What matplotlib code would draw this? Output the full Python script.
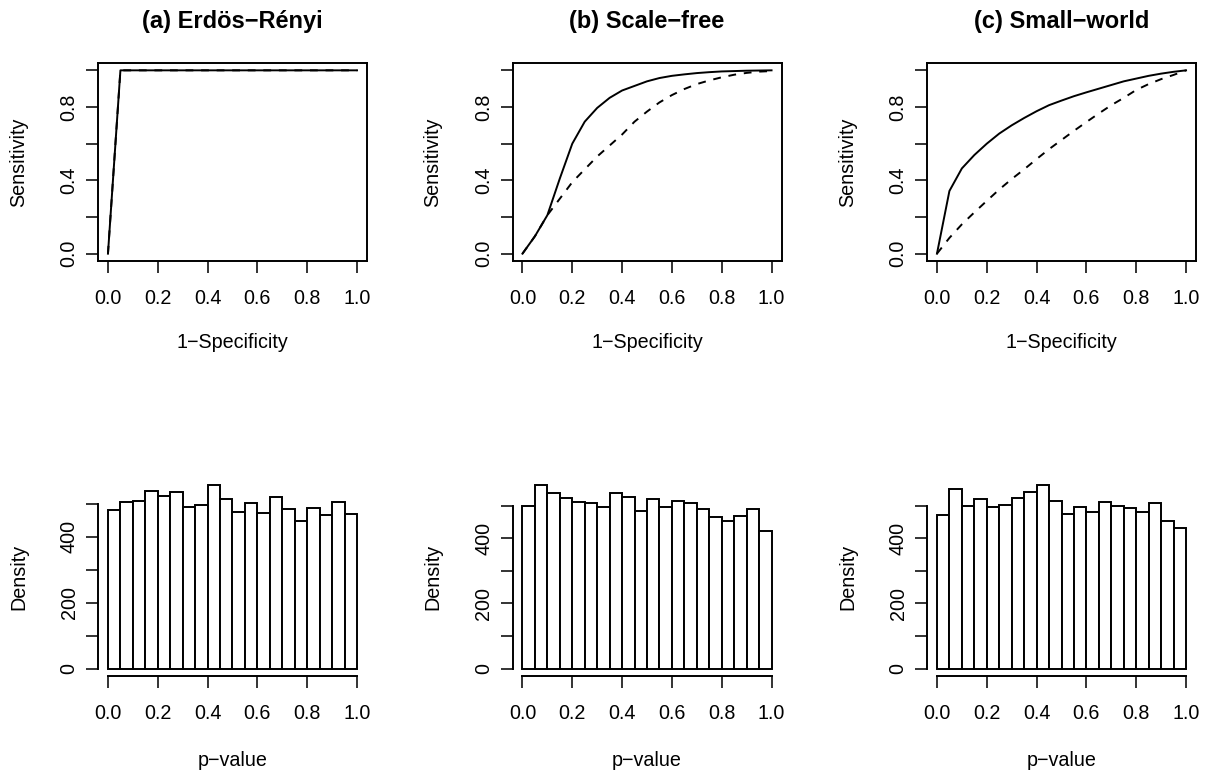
""" ROC curves and p-value histograms for three network models, drawn in R base-graphics style"""
import numpy as np
import matplotlib
matplotlib.use("Agg")
import matplotlib.pyplot as plt


FIG_W, FIG_H = 1207, 772
DPI = 100

TITLES = ["(a) Erdös−Rényi", "(b) Scale−free", "(c) Small−world"]

FPR = [0.00, 0.05, 0.10, 0.15, 0.20, 0.25, 0.30, 0.35, 0.40, 0.45, 0.50,
       0.55, 0.60, 0.65, 0.70, 0.75, 0.80, 0.85, 0.90, 0.95, 1.00]

# solid curves
SENS_ER = [0.0, 1.0, 1.0, 1.0, 1.0, 1.0, 1.0, 1.0, 1.0, 1.0, 1.0,
           1.0, 1.0, 1.0, 1.0, 1.0, 1.0, 1.0, 1.0, 1.0, 1.0]
SENS_SF = [0.0, 0.095, 0.21, 0.41, 0.60, 0.72, 0.795, 0.85, 0.89, 0.915, 0.94,
           0.958, 0.97, 0.978, 0.985, 0.99, 0.994, 0.996, 0.998, 0.999, 1.0]
SENS_SW = [0.0, 0.342, 0.465, 0.538, 0.60, 0.655, 0.70, 0.74, 0.777, 0.81, 0.835,
           0.859, 0.88, 0.90, 0.92, 0.94, 0.955, 0.97, 0.982, 0.992, 1.0]

# dashed curves
SENS_ER_2 = [0.0, 1.0, 1.0, 1.0, 1.0, 1.0, 1.0, 1.0, 1.0, 1.0, 1.0,
             1.0, 1.0, 1.0, 1.0, 1.0, 1.0, 1.0, 1.0, 1.0, 1.0]
SENS_SF_2 = [0.0, 0.095, 0.21, 0.30, 0.39, 0.46, 0.53, 0.59, 0.65, 0.72, 0.775,
             0.825, 0.865, 0.898, 0.925, 0.945, 0.962, 0.976, 0.986, 0.993, 0.996]
SENS_SW_2 = [0.0, 0.086, 0.16, 0.225, 0.288, 0.35, 0.407, 0.46, 0.516, 0.57, 0.62,
             0.67, 0.718, 0.765, 0.81, 0.85, 0.893, 0.925, 0.952, 0.975, 1.0]

BIN_EDGES = [0.00, 0.05, 0.10, 0.15, 0.20, 0.25, 0.30, 0.35, 0.40, 0.45, 0.50,
             0.55, 0.60, 0.65, 0.70, 0.75, 0.80, 0.85, 0.90, 0.95, 1.00]
DENS_ER = [480, 505, 510, 540, 524, 537, 489, 497, 556, 515,
           475, 503, 473, 521, 484, 447, 487, 465, 504, 469]
DENS_SF = [498, 562, 539, 524, 511, 508, 497, 538, 525, 484,
           519, 495, 513, 508, 488, 466, 453, 469, 489, 421]
DENS_SW = [470, 552, 500, 521, 497, 502, 523, 541, 562, 514,
           473, 496, 481, 511, 498, 494, 479, 507, 452, 431]

LW = 1.4
FS = 14.2
FONT = ["Liberation Sans", "DejaVu Sans"]


def px_axes(fig, left, top, width, height):
    """ Add axes using pixel coordinates measured from the top-left corner"""
    return fig.add_axes([left / FIG_W, 1 - (top + height) / FIG_H, width / FIG_W, height / FIG_H])


def style_ticks(ax):
    """ R-like outward ticks"""
    ax.tick_params(axis="both", direction="out", length=8.5, width=LW * 0.8,
                   labelsize=FS, colors="black")
    ax.tick_params(axis="x", pad=11.5)
    ax.tick_params(axis="y", pad=5.5)
    for lab in ax.get_yticklabels():
        lab.set_rotation(90)
        lab.set_va("center")


def roc_panel(ax, title, solid, dashed):
    """ ROC curve panel with a full box"""
    ax.plot(FPR, solid, color="black", lw=LW, solid_joinstyle="round")
    ax.plot(FPR, dashed, color="black", lw=LW, dashes=(4, 4))
    ax.set_xlim(-0.04, 1.04)
    ax.set_ylim(-0.04, 1.04)
    ax.set_xticks([0.0, 0.2, 0.4, 0.6, 0.8, 1.0])
    ax.set_xticklabels(["0.0", "0.2", "0.4", "0.6", "0.8", "1.0"])
    ax.set_yticks([0.0, 0.2, 0.4, 0.6, 0.8, 1.0])
    ax.set_yticklabels(["0.0", "", "0.4", "", "0.8", ""])
    for sp in ax.spines.values():
        sp.set_linewidth(LW)
    style_ticks(ax)
    ax.set_xlabel("1−Specificity", fontsize=FS)
    ax.set_ylabel("Sensitivity", fontsize=FS)
    ax.xaxis.set_label_coords(0.5, -72 / 198)
    ax.yaxis.set_label_coords(-70 / 269, 0.5)
    ax.text(0.5, 1 + 35 / 198, title, transform=ax.transAxes, ha="center",
            va="baseline", fontsize=FS * 1.2, fontweight="bold")


def hist_panel(ax, heights):
    """ Histogram panel without a box, axes lines only between end ticks"""
    lefts = BIN_EDGES[:-1]
    widths = np.diff(BIN_EDGES)
    ax.bar(lefts, heights, width=widths, align="edge", facecolor="white",
           edgecolor="black", linewidth=LW)
    top = max(heights)
    ax.set_xlim(-0.04, 1.04)
    ax.set_ylim(-0.04 * top, 1.04 * top)
    ax.set_xticks([0.0, 0.2, 0.4, 0.6, 0.8, 1.0])
    ax.set_xticklabels(["0.0", "0.2", "0.4", "0.6", "0.8", "1.0"])
    ax.set_yticks([0, 100, 200, 300, 400, 500])
    ax.set_yticklabels(["0", "", "200", "", "400", ""])
    ax.spines["top"].set_visible(False)
    ax.spines["right"].set_visible(False)
    ax.spines["left"].set_bounds(0, 500)
    ax.spines["bottom"].set_bounds(0, 1)
    ax.spines["left"].set_linewidth(LW)
    ax.spines["bottom"].set_linewidth(LW)
    style_ticks(ax)
    ax.set_xlabel("p−value", fontsize=FS)
    ax.set_ylabel("Density", fontsize=FS)
    ax.xaxis.set_label_coords(0.5, -75 / 198)
    ax.yaxis.set_label_coords(-70 / 269, 0.5)


if __name__ == "__main__":
    plt.rcParams["font.family"] = FONT

    fig = plt.figure(figsize=(FIG_W / DPI, FIG_H / DPI), dpi=DPI)
    fig.patch.set_facecolor("white")

    lefts = [98, 512.5, 927]
    solids = [SENS_ER, SENS_SF, SENS_SW]
    dasheds = [SENS_ER_2, SENS_SF_2, SENS_SW_2]
    dens = [DENS_ER, DENS_SF, DENS_SW]

    for i in range(3):
        ax_top = px_axes(fig, lefts[i], 63, 269, 198)
        roc_panel(ax_top, TITLES[i], solids[i], dasheds[i])

        ax_bot = px_axes(fig, lefts[i], 478, 269, 198)
        hist_panel(ax_bot, dens[i])

    fig.savefig("out.png", dpi=DPI)
